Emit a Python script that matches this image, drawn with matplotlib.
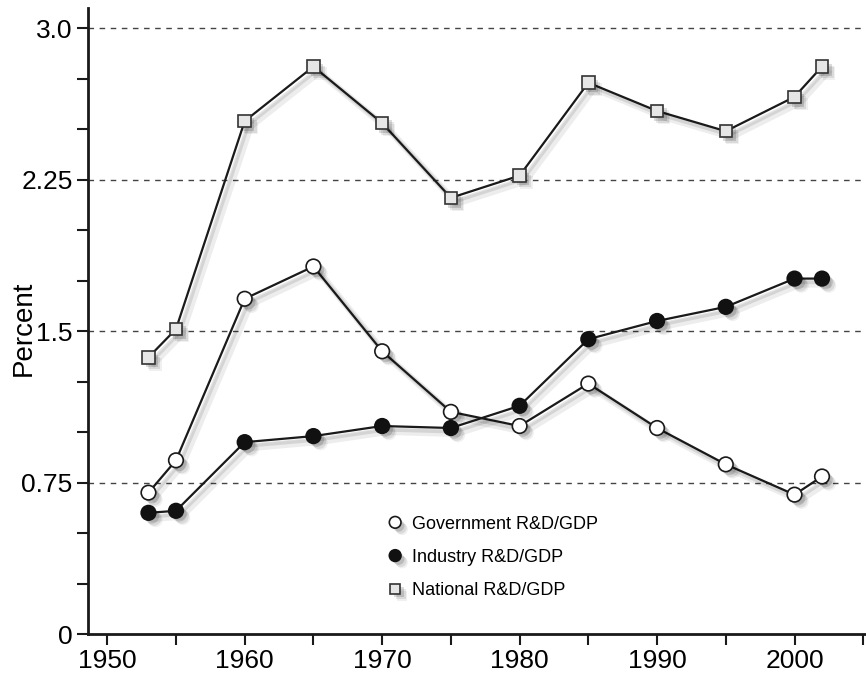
import matplotlib
matplotlib.use('Agg')
import matplotlib.pyplot as plt
import matplotlib.patheffects as pe

plt.rcParams['font.family'] = ['Liberation Sans', 'DejaVu Sans']

years = [1953, 1955, 1960, 1965, 1970, 1975, 1980, 1985, 1990, 1995, 2000, 2002]
government = [0.70, 0.86, 1.66, 1.82, 1.40, 1.10, 1.03, 1.24, 1.02, 0.84, 0.69, 0.78]
industry = [0.60, 0.61, 0.95, 0.98, 1.03, 1.02, 1.13, 1.46, 1.55, 1.62, 1.76, 1.76]
national = [1.37, 1.51, 2.54, 2.81, 2.53, 2.16, 2.27, 2.73, 2.59, 2.49, 2.66, 2.81]

y_ticks = [0, 0.75, 1.5, 2.25, 3.0]
y_labels = ['0', '0.75', '1.5', '2.25', '3.0']
x_ticks = [1950, 1960, 1970, 1980, 1990, 2000]

# soft drop shadow, stacked for a blur-ish look
shadow = [
    pe.SimplePatchShadow(offset=(5, -5), shadow_rgbFace='#000000', alpha=0.06),
    pe.SimplePatchShadow(offset=(4, -4), shadow_rgbFace='#000000', alpha=0.09),
    pe.SimplePatchShadow(offset=(2.5, -2.5), shadow_rgbFace='#000000', alpha=0.14),
    pe.Normal(),
]
line_shadow = [
    pe.SimpleLineShadow(offset=(4, -4), shadow_color='#000000', alpha=0.07, linewidth=5),
    pe.SimpleLineShadow(offset=(2.5, -2.5), shadow_color='#000000', alpha=0.10, linewidth=3),
    pe.Normal(),
]

fig = plt.figure(figsize=(8.66, 6.79), dpi=100)
ax = fig.add_axes([88 / 866, 45 / 679, 778 / 866, 626 / 679])

for yv in [0.75, 1.5, 2.25, 3.0]:
    ax.axhline(yv, color='#444444', lw=1.0, ls=(0, (4, 4)), zorder=1)

ax.plot(years, national, color='#1a1a1a', lw=1.6, zorder=2, path_effects=line_shadow)
ax.plot(years, government, color='#1a1a1a', lw=1.6, zorder=2, path_effects=line_shadow)
ax.plot(years, industry, color='#1a1a1a', lw=1.6, zorder=2, path_effects=line_shadow)

ax.plot(years, national, ls='none', marker='s', ms=9, mfc='#e6e6e6', mec='#333333',
        mew=1.2, zorder=3, path_effects=shadow, label='National R&D/GDP')
ax.plot(years, government, ls='none', marker='o', ms=10.5, mfc='white', mec='#1a1a1a',
        mew=1.2, zorder=3, path_effects=shadow, label='Government R&D/GDP')
ax.plot(years, industry, ls='none', marker='o', ms=10.5, mfc='#111111', mec='#111111',
        mew=1.2, zorder=3, path_effects=shadow, label='Industry R&D/GDP')

ax.set_xlim(1948.6, 2005.2)
ax.set_ylim(0, 3.1)
ax.set_yticks(y_ticks)
ax.set_yticklabels(y_labels)
ax.set_yticks([0.25, 0.5, 1.0, 1.25, 1.75, 2.0, 2.5, 2.75], minor=True)
ax.set_xticks(x_ticks)
ax.set_xticks([1955, 1965, 1975, 1985, 1995, 2005], minor=True)

ax.tick_params(axis='both', which='both', direction='out', width=1.5, color='#1a1a1a')
ax.tick_params(axis='both', which='major', length=8, labelsize=19, pad=3)
ax.tick_params(axis='both', which='minor', length=8)

for s in ['top', 'right']:
    ax.spines[s].set_visible(False)
for s in ['left', 'bottom']:
    ax.spines[s].set_linewidth(2)
    ax.spines[s].set_color('#1a1a1a')

ax.set_ylabel('Percent', fontsize=20)
ax.yaxis.set_label_coords(-0.066, 0.489)

handles, labels = ax.get_legend_handles_labels()
order = [1, 2, 0]
ax.legend([handles[i] for i in order], [labels[i] for i in order],
          loc='upper left', bbox_to_anchor=(0.36, 0.215), frameon=False,
          fontsize=13, handletextpad=0.35, labelspacing=0.9, markerscale=0.8,
          handlelength=1.2)

plt.savefig('out.png', dpi=100)
plt.close()
